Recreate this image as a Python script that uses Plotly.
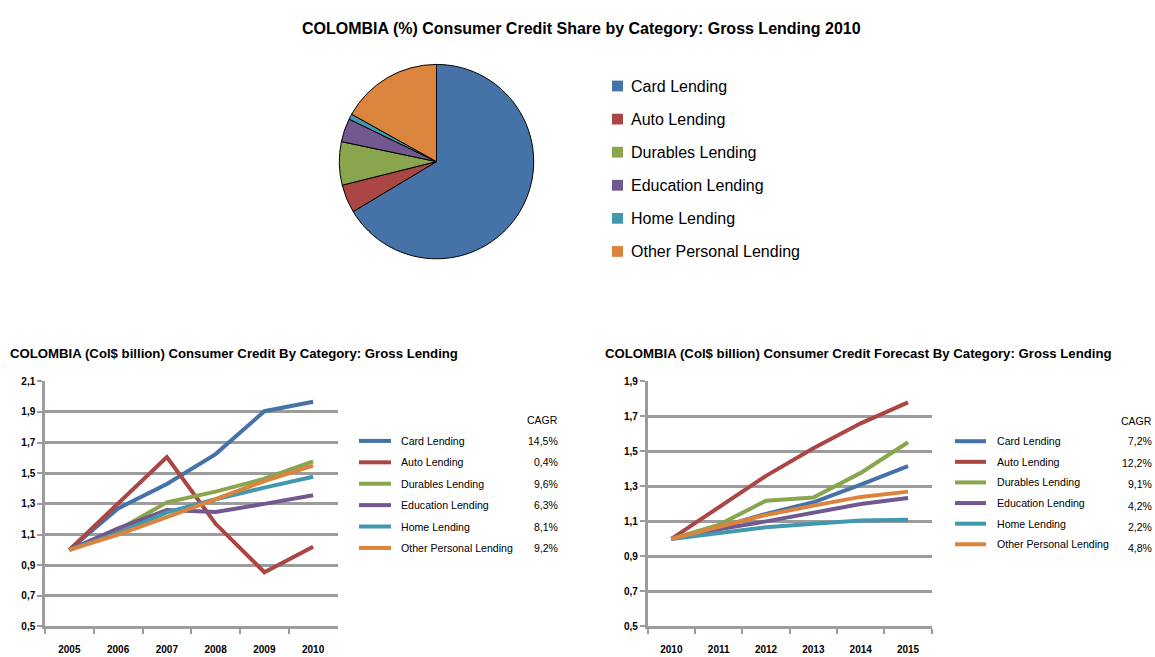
import plotly.graph_objects as go

W, H = 1155, 657

# categories / colours
categories = ["Card Lending", "Auto Lending", "Durables Lending",
              "Education Lending", "Home Lending", "Other Personal Lending"]
colors = ["#4572A7", "#AA4643", "#89A54E", "#71588F", "#4198AF", "#DB843D"]

# pie: share of gross lending 2010 (%)
share_2010 = [66.4, 4.7, 7.2, 3.9, 0.9, 16.9]

# historic index (2005 = 1)
hist_years = ["2005", "2006", "2007", "2008", "2009", "2010"]
card_hist = [1.0, 1.27, 1.43, 1.625, 1.905, 1.967]
auto_hist = [1.0, 1.30, 1.606, 1.17, 0.854, 1.02]
durables_hist = [1.0, 1.13, 1.31, 1.38, 1.464, 1.578]
education_hist = [1.0, 1.14, 1.26, 1.247, 1.30, 1.357]
home_hist = [1.0, 1.11, 1.245, 1.33, 1.406, 1.477]
other_hist = [1.0, 1.10, 1.213, 1.33, 1.449, 1.55]
cagr_hist = [14.5, 0.4, 9.6, 6.3, 8.1, 9.2]

# forecast index (2010 = 1)
fc_years = ["2010", "2011", "2012", "2013", "2014", "2015"]
card_fc = [1.0, 1.065, 1.143, 1.209, 1.31, 1.415]
auto_fc = [1.0, 1.182, 1.36, 1.518, 1.66, 1.78]
durables_fc = [1.0, 1.08, 1.218, 1.236, 1.377, 1.552]
education_fc = [1.0, 1.055, 1.10, 1.152, 1.199, 1.233]
home_fc = [1.0, 1.035, 1.067, 1.086, 1.105, 1.109]
other_fc = [1.0, 1.07, 1.137, 1.19, 1.24, 1.27]
cagr_fc = [7.2, 12.2, 9.1, 4.2, 2.2, 4.8]

hist_series = [card_hist, auto_hist, durables_hist, education_hist, home_hist, other_hist]
fc_series = [card_fc, auto_fc, durables_fc, education_fc, home_fc, other_fc]


def px(x):
    return x / W


def py(y):
    return 1 - y / H


FONT = "Arial"
GRID = "#9C9C9C"

fig = go.Figure()

fig.add_trace(go.Pie(
    labels=categories, values=share_2010, sort=False, direction="clockwise",
    rotation=0, textinfo="none", showlegend=False,
    marker=dict(colors=colors, line=dict(color="black", width=1)),
    domain=dict(x=[px(337.5), px(535.5)], y=[py(257.5), py(59.5)]),
))

for name, vals, col in zip(categories, hist_series, colors):
    fig.add_trace(go.Scatter(x=hist_years, y=vals, mode="lines", name=name,
                             line=dict(color=col, width=4), showlegend=False,
                             xaxis="x", yaxis="y"))
for name, vals, col in zip(categories, fc_series, colors):
    fig.add_trace(go.Scatter(x=fc_years, y=vals, mode="lines", name=name,
                             line=dict(color=col, width=4), showlegend=False,
                             xaxis="x2", yaxis="y2"))

xax = dict(type="category", tickson="boundaries", ticks="outside", ticklen=5,
           tickwidth=2, tickcolor=GRID, showline=True, linecolor=GRID, linewidth=2.5,
           showgrid=False, tickfont=dict(family=FONT, size=10, color="black", weight="bold"),
           ticklabelstandoff=12, range=[-0.5, 5.5], fixedrange=True)
yax = dict(ticks="outside", ticklen=5, tickwidth=2, tickcolor=GRID, showline=True,
           linecolor=GRID, linewidth=2.5, showgrid=True, gridcolor=GRID, gridwidth=2.5,
           zeroline=False, dtick=0.2, tickformat=".1f",
           tickfont=dict(family=FONT, size=10, color="black", weight="bold"), fixedrange=True)

fig.update_layout(
    width=W, height=H, margin=dict(l=0, r=0, t=0, b=0),
    paper_bgcolor="white", plot_bgcolor="white", separators=",.",
    font=dict(family=FONT, color="black"),
    xaxis=dict(xax, domain=[px(45), px(337.5)], anchor="y"),
    yaxis=dict(yax, domain=[py(632), py(382.3)], range=[0.5, 2.1], tick0=0.5, anchor="x"),
    xaxis2=dict(xax, domain=[px(647.7), px(931.7)], anchor="y2"),
    yaxis2=dict(yax, domain=[py(632), py(382.3)], range=[0.5, 1.9], tick0=0.5, anchor="x2"),
)

ann = []
shapes = []


def text(x, y, s, size, bold=False, anchor="left"):
    ann.append(dict(x=px(x), y=py(y), xref="paper", yref="paper", text=s, showarrow=False,
                    xanchor=anchor, yanchor="middle",
                    font=dict(family=FONT, size=size, color="black",
                              weight="bold" if bold else "normal")))


text(581, 23, "COLOMBIA (%) Consumer Credit Share by Category: Gross Lending 2010", 16, True, "center")
text(8, 354, "COLOMBIA (Col$ billion) Consumer Credit By Category: Gross Lending", 13.2, True)
text(603, 354, "COLOMBIA (Col$ billion) Consumer Credit Forecast By Category: Gross Lending", 13.2, True)

# pie legend
for i, (cat, col) in enumerate(zip(categories, colors)):
    y = 81.5 + i * 33.7
    shapes.append(dict(type="rect", xref="paper", yref="paper", x0=px(612), x1=px(623),
                       y0=py(y + 5.5), y1=py(y - 5.5), fillcolor=col, line=dict(width=0)))
    text(629, y, cat, 16)

# historic legend with CAGR column
text(560, 422, "CAGR", 10.5, anchor="right")
for i, (cat, col, g) in enumerate(zip(categories, colors, cagr_hist)):
    y = 443 + i * 21.8
    shapes.append(dict(type="line", xref="paper", yref="paper", x0=px(359), x1=px(391),
                       y0=py(y), y1=py(y), line=dict(color=col, width=4)))
    text(399, y, cat, 10.6)
    text(560, y, f"{g:.1f}%".replace(".", ","), 10.5, anchor="right")

# forecast legend with CAGR column
text(1154, 423, "CAGR", 10.5, anchor="right")
for i, (cat, col, g) in enumerate(zip(categories, colors, cagr_fc)):
    y = 443.3 + i * 21
    shapes.append(dict(type="line", xref="paper", yref="paper", x0=px(955), x1=px(986),
                       y0=py(y), y1=py(y), line=dict(color=col, width=4)))
    text(995, y, cat, 10.6)
    text(1154, 443.5 + i * 21.8, f"{g:.1f}%".replace(".", ","), 10.5, anchor="right")

fig.update_layout(annotations=ann, shapes=shapes)

fig.write_html("out.html", config={"displayModeBar": False},
               post_script="document.body.style.margin='0';")
